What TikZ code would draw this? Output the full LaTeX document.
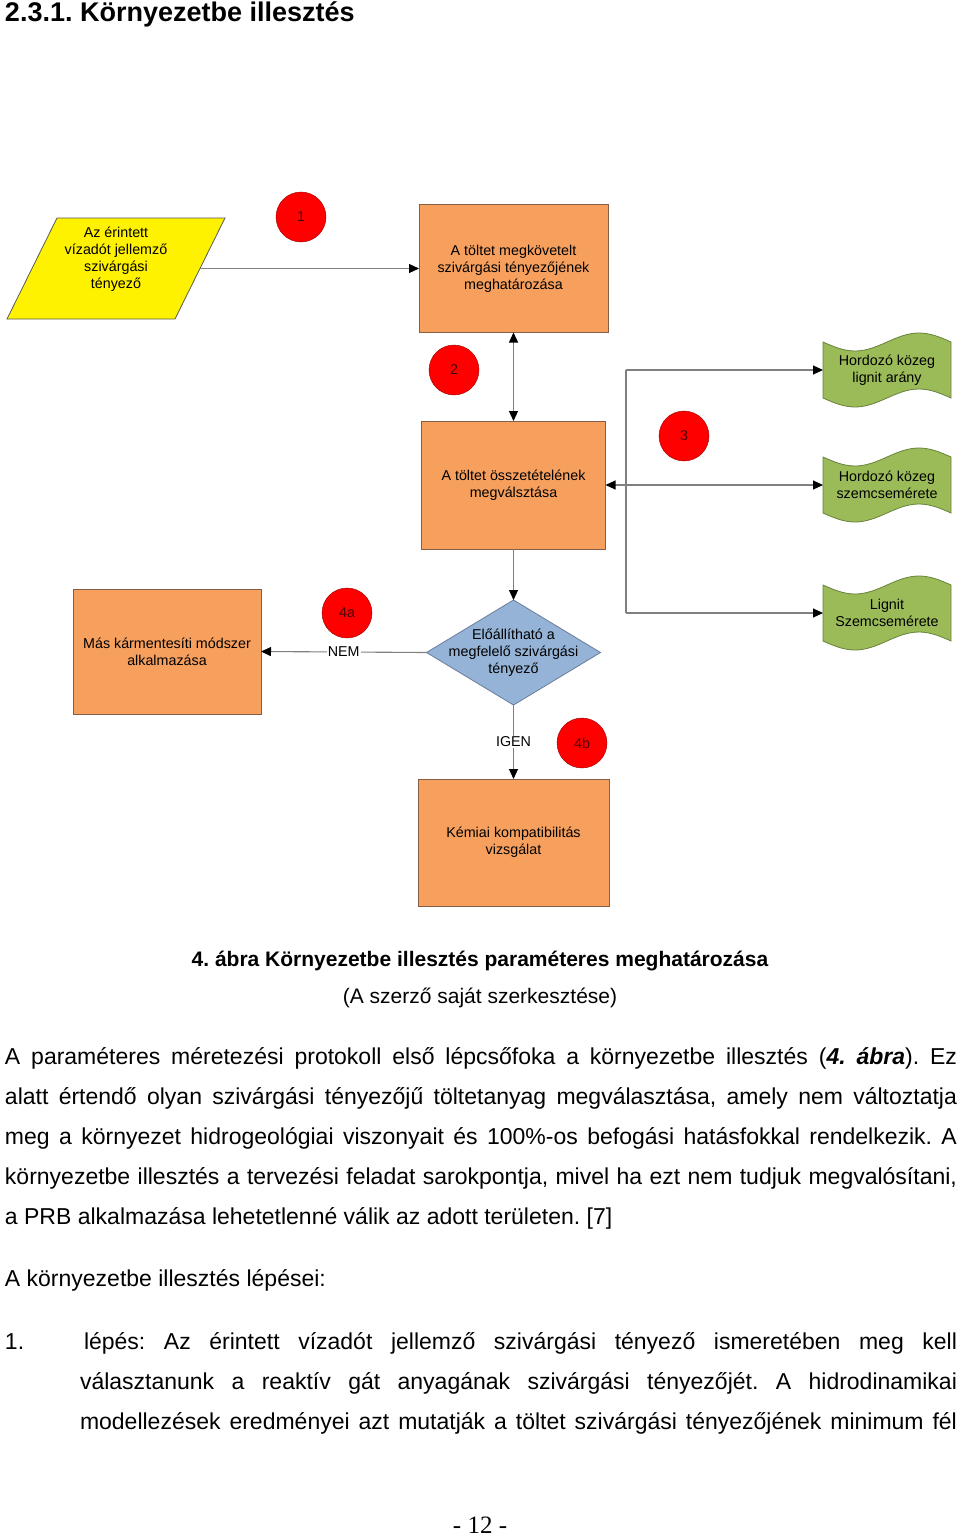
\documentclass[tikz,border=0pt]{standalone}
\usepackage{fontspec}
\setmainfont{Liberation Sans}
\newfontfamily\pagefont{Liberation Serif}
\usetikzlibrary{positioning,arrows.meta,calc}
\definecolor{boxorange}{RGB}{247,160,94}
\definecolor{boxedge}{RGB}{135,95,70}
\definecolor{tapegreen}{RGB}{155,187,89}
\definecolor{tapeedge}{RGB}{105,130,60}
\definecolor{askblue}{RGB}{149,179,215}
\definecolor{askedge}{RGB}{105,125,155}
\definecolor{stepred}{RGB}{255,0,0}
\definecolor{stepedge}{RGB}{150,0,0}
\definecolor{linkgray}{RGB}{128,128,128}
\newcommand{\diagfont}{\fontsize{14.3}{17}\selectfont}
\newcommand{\bodyfont}{\fontsize{23}{40}\selectfont}
\hyphenpenalty=10000
\exhyphenpenalty=10000
\tolerance=9999
\frenchspacing
\newcommand{\tapeshape}[2]{%
  \filldraw[tapeline] (#1-64,#2-28) sin (#1-32,#2-19) cos (#1,#2-28) sin (#1+32,#2-37) cos (#1+64,#2-28)
    -- (#1+64,#2+28) sin (#1+32,#2+19) cos (#1,#2+28) sin (#1-32,#2+37) cos (#1-64,#2+28) -- cycle;}
\begin{document}
\begin{tikzpicture}[x=1pt, y=-1pt,
    every node/.style={inner sep=0pt, outer sep=0pt},
    box/.style={rectangle, draw=boxedge, fill=boxorange, align=center, font=\diagfont, minimum width=189pt, minimum height=128pt},
    tapetext/.style={rectangle, align=center, font=\diagfont, minimum width=128pt, minimum height=56pt},
    tapeline/.style={draw=tapeedge, fill=tapegreen, line width=0.8pt},
    stepno/.style={circle, draw=stepedge, fill=stepred, minimum size=50pt, font=\diagfont, text=black!70!red},
    link/.style={draw=linkgray, line width=1.1pt},
    arrow/.style={link, -{Triangle[black, length=10pt, width=9pt]}},
    biarrow/.style={link, {Triangle[black, length=10pt, width=9pt]}-{Triangle[black, length=10pt, width=9pt]}},
    edgelabel/.style={fill=white, font=\diagfont, inner sep=1pt},
    bodytext/.style={anchor=base west, align=justify, font=\bodyfont}
]
    \fill[white] (0,0) rectangle (960,1536);
    \useasboundingbox (0,0) rectangle (960,1536);

    \node[anchor=base west, font=\fontsize{27}{32}\selectfont\bfseries] (heading) at (5,22) {2.3.1. Környezetbe illesztés};

    \filldraw[draw=black!65, fill=yellow, line width=0.8pt] (57,218) -- (225,218) -- (175,319) -- (7,319) -- cycle;
    \node[rectangle, align=center, font=\diagfont, minimum width=168pt, minimum height=101pt] (input) at (116,259.5) {Az érintett\\vízadót jellemző\\szivárgási\\tényező};
    \node[box] (req) at (513.5,268.5) {A töltet megkövetelt\\szivárgási tényezőjének\\meghatározása};
    \node[box, minimum width=184pt] (mix) at (513.5,485) {A töltet összetételének\\megválsztása};
    \node[box, minimum width=188pt, minimum height=125pt] (alt) at (167,651.5) {Más kármentesíti módszer\\alkalmazása};
    \node[box, minimum width=191pt, minimum height=127pt] (chem) at (513.5,842.5) {Kémiai kompatibilitás\\vizsgálat};

    \filldraw[draw=askedge, fill=askblue, line width=0.8pt] (513.5,600) -- (600.5,652.5) -- (513.5,705) -- (426.5,652.5) -- cycle;
    \node[rectangle, align=center, font=\diagfont, minimum width=174pt, minimum height=105pt] (ask) at (513.5,652.5) {Előállítható a\\megfelelő szivárgási\\tényező};

    \tapeshape{887}{370}
    \node[tapetext] (ligshare) at (887,370) {Hordozó közeg\\lignit arány};
    \tapeshape{887}{485}
    \node[tapetext] (grain) at (887,485) {Hordozó közeg\\szemcsemérete};
    \tapeshape{887}{613}
    \node[tapetext] (liggrain) at (887,613) {Lignit\\Szemcsemérete};

    \node[stepno] (s1) at (301,217) {1};
    \node[stepno] (s2) at (454,370) {2};
    \node[stepno] (s3) at (684,436) {3};
    \node[stepno] (s4a) at (347,613) {4a};
    \node[stepno] (s4b) at (582,743) {4b};

    \coordinate (bustop) at (626,370);
    \coordinate (busbot) at (626,613);

    \draw[arrow] (input.east |- req.west) -- (req.west);
    \draw[biarrow] (req.south) -- (mix.north);
    \draw[biarrow] (mix.east) -- (grain.west);
    \draw[link] (bustop) -- (busbot);
    \draw[arrow] (bustop) -- (ligshare.west);
    \draw[arrow] (busbot) -- (liggrain.west);
    \draw[arrow] (mix.south) -- (ask.north);
    \draw[arrow] (ask.west) -- node[edgelabel] {NEM} (alt.east);
    \draw[arrow] (ask.south) -- node[edgelabel] {IGEN} (chem.north);

    \node[anchor=base, font=\fontsize{21}{25}\selectfont\bfseries] (caption) at (480,966) {4. ábra Környezetbe illesztés paraméteres meghatározása};
    \node[anchor=base, font=\fontsize{21}{25}\selectfont] (source) at (480,1003) {(A szerző saját szerkesztése)};

    \node[bodytext, text width=952pt] (intro) at (5,1064) {A paraméteres méretezési protokoll első lépcsőfoka a környezetbe illesztés (\textbf{\textit{4. ábra}}). Ez\linebreak alatt értendő olyan szivárgási tényezőjű töltetanyag megválasztása, amely nem változtatja\linebreak meg a környezet hidrogeológiai viszonyait és 100\%-os befogási hatásfokkal rendelkezik. A\linebreak környezetbe illesztés a tervezési feladat sarokpontja, mivel ha ezt nem tudjuk megvalósítani,\linebreak a PRB alkalmazása lehetetlenné válik az adott területen. [7]};

    \node[bodytext] (stepshead) at (5,1286) {A környezetbe illesztés lépései:};
    \node[bodytext] (num1) at (5,1349) {1.};
    \node[bodytext, text width=877pt] (step1) at (80,1349) {\parfillskip=0pt\hspace*{4pt}lépés: Az érintett vízadót jellemző szivárgási tényező ismeretében meg kell\linebreak választanunk a reaktív gát anyagának szivárgási tényezőjét. A hidrodinamikai\linebreak modellezések eredményei azt mutatják a töltet szivárgási tényezőjének minimum fél\par};

    \node[anchor=base, font=\pagefont\fontsize{25}{30}\selectfont] (pageno) at (480,1533) {- 12 -};
\end{tikzpicture}
\end{document}
